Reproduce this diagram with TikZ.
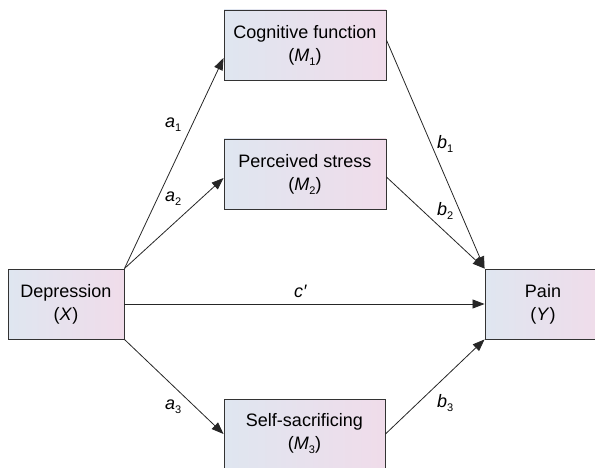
\documentclass[tikz,border=0pt]{standalone}
\usepackage{fontspec}
\setmainfont{Liberation Sans}
\usetikzlibrary{arrows.meta}
\definecolor{boxL}{HTML}{DFE6F0}
\definecolor{boxR}{HTML}{F0DCEA}
\newcommand\mysub[1]{\raisebox{-4pt}{\fontsize{11}{11}\selectfont #1}}
\begin{document}
\begin{tikzpicture}[x=1pt,y=-1pt,
  box/.style={draw=black!80, line width=0.9pt, left color=boxL, right color=boxR,
    minimum height=70pt, align=center, inner sep=0pt, font=\fontsize{18}{23}\selectfont},
  arr/.style={line width=0.8pt, draw=black!85, -{Triangle[length=12pt,width=9pt]}},
  lbl/.style={anchor=base west, inner sep=0pt, font=\fontsize{18}{23}\selectfont}]
\useasboundingbox (0,0) rectangle (595,468);
\clip (0,0) rectangle (595,468);
\node[box, minimum width=116pt] (dep) at (66,304) {Depression\\(\textit{X})};
\node[box, minimum width=162pt] (cog) at (305,45) {Cognitive function\\(\textit{M}\mysub{1})};
\node[box, minimum width=162pt] (per) at (305,174) {Perceived stress\\(\textit{M}\mysub{2})};
\node[box, minimum width=161pt] (self) at (304.5,434) {Self-sacrificing\\(\textit{M}\mysub{3})};
\node[box, minimum width=116pt] (pain) at (543,304) {Pain\\(\textit{Y})};
\draw[arr] (dep.north east) -- ([yshift=-13pt]cog.west);
\draw[arr] (dep.north east) -- ([yshift=-4pt]per.west);
\draw[arr] (dep.east) -- (pain.west);
\draw[arr] (dep.south east) -- (self.west);
\draw[arr] ([yshift=5pt]cog.east) -- (pain.north west);
\draw[arr] ([yshift=-3pt]per.east) -- (pain.north west);
\draw[arr] (self.east) -- (pain.south west);
\node[lbl] (la1) at (165,128) {\textit{a}\mysub{1}};
\node[lbl] (la2) at (165,202) {\textit{a}\mysub{2}};
\node[lbl] (la3) at (165,409) {\textit{a}\mysub{3}};
\node[lbl] (lb1) at (437,149) {\textit{b}\mysub{1}};
\node[lbl] (lb2) at (437,215) {\textit{b}\mysub{2}};
\node[lbl] (lb3) at (437,407) {\textit{b}\mysub{3}};
\node[lbl] (lc) at (294,297) {\textit{c′}};
\end{tikzpicture}
\end{document}
